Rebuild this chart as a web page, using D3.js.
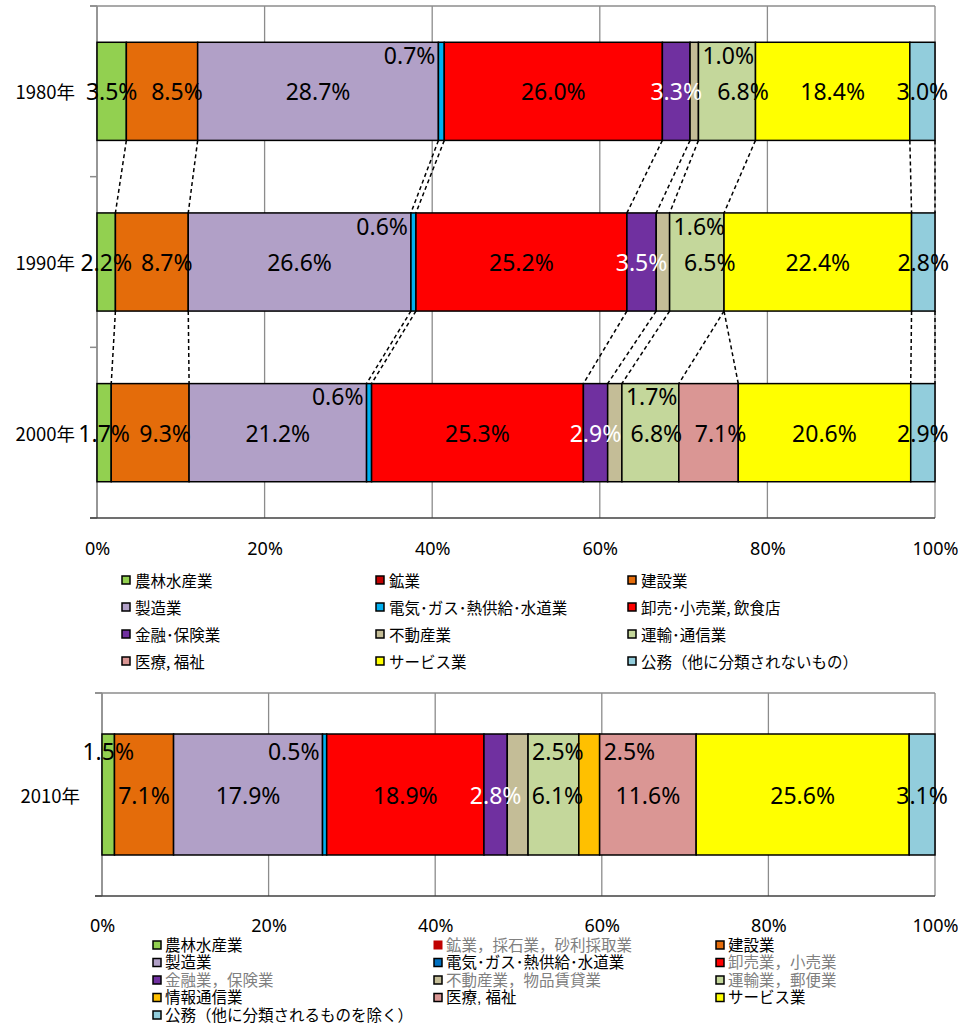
<!DOCTYPE html>
<html><head><meta charset="utf-8">
<script src="https://cdn.jsdelivr.net/npm/d3@7"></script>
<style>body{margin:0;background:#fff} svg{display:block}</style>
</head><body>
<svg id="c" width="958" height="1027"></svg>
<script>
// ---------- data: chart 1 (1980–2000) ----------
const years1 = ["1980年", "1990年", "2000年"];
const series1 = ["農林水産業", "鉱業", "建設業", "製造業", "電気･ガス･熱供給･水道業", "卸売･小売業, 飲食店",
  "金融･保険業", "不動産業", "運輸･通信業", "医療, 福祉", "サービス業", "公務（他に分類されないもの）"];
const values1980 = [3.5, 0, 8.5, 28.7, 0.7, 26.0, 3.3, 1.0, 6.8, 0, 18.4, 3.0];
const values1990 = [2.2, 0, 8.7, 26.6, 0.6, 25.2, 3.5, 1.6, 6.5, 0, 22.4, 2.8];
const values2000 = [1.7, 0, 9.3, 21.2, 0.6, 25.3, 2.9, 1.7, 6.8, 7.1, 20.6, 2.9];
const colors1 = ["#92D050", "#C00000", "#E46C0A", "#B1A0C7", "#00B0F0", "#FF0000",
  "#7030A0", "#C4BD97", "#C4D79B", "#DA9694", "#FFFF00", "#92CDDC"];
const labelMode1 = {"電気･ガス･熱供給･水道業": "topLeft", "不動産業": "topRight"};
const labelShift1 = {"建設業": [15, 15, 15], "運輸･通信業": [16, 13, 6], "医療, 福祉": [0, 0, 12]};
const whiteLabel1 = ["金融･保険業"];

// ---------- data: chart 2 (2010) ----------
const years2 = ["2010年"];
const series2 = ["農林水産業", "鉱業，採石業，砂利採取業", "建設業", "製造業", "電気･ガス･熱供給･水道業", "卸売業，小売業",
  "金融業，保険業", "不動産業，物品賃貸業", "運輸業，郵便業", "情報通信業", "医療, 福祉", "サービス業", "公務（他に分類されるものを除く）"];
const values2010 = [1.5, 0, 7.1, 17.9, 0.5, 18.9, 2.8, 2.5, 6.1, 2.5, 11.6, 25.6, 3.1];
const colors2 = ["#92D050", "#C00000", "#E46C0A", "#B1A0C7", "#00B0F0", "#FF0000",
  "#7030A0", "#C4BD97", "#C4D79B", "#FFC000", "#DA9694", "#FFFF00", "#92CDDC"];
const legendColors2 = ["#92D050", "#C00000", "#E46C0A", "#B1A0C7", "#0070C0", "#FF0000",
  "#7030A0", "#C4BD97", "#C4D79B", "#FFC000", "#DA9694", "#FFFF00", "#92CDDC"];
const legendGray2 = ["鉱業，採石業，砂利採取業", "卸売業，小売業", "金融業，保険業", "不動産業，物品賃貸業", "運輸業，郵便業"];
const labelMode2 = {"農林水産業": "topCenter", "電気･ガス･熱供給･水道業": "topLeft", "不動産業，物品賃貸業": "topRight", "情報通信業": "topRight"};
const labelShift2 = {"運輸業，郵便業": [4]};
const whiteLabel2 = ["金融業，保険業"];

const tickValues = [0, 0.2, 0.4, 0.6, 0.8, 1];

const svg = d3.select("#c");
const NUM_FONT = "'Noto Sans','Noto Sans CJK JP',sans-serif";
const JP_FONT = "'Noto Sans CJK JP','Noto Sans',sans-serif";
const LEG_FONT = "'Liberation Sans','Noto Sans CJK JP',sans-serif";
const fmt = d => d3.format(".1f")(d) + "%";

function drawChart(cfg) {
  const {years, series, rows, colors, left, right, top, bottom, pad, labelMode, labelShift, white, catX, tickLabelY, topFrac} = cfg;
  const g = svg.append("g");
  const data = years.map((yr, i) => { const o = {year: yr}; series.forEach((s, j) => o[s] = rows[i][j]); return o; });
  const stacked = d3.stack().keys(series).offset(d3.stackOffsetExpand)(data);
  const x = d3.scaleLinear().domain([0, 1]).range([left, right]);
  const y = d3.scaleBand().domain(years).range([top, bottom]).paddingInner(pad).paddingOuter(pad / 2);
  const bw = y.bandwidth();

  // gridlines
  g.selectAll("line.grid").data(tickValues).join("line")
    .attr("x1", d => x(d)).attr("x2", d => x(d)).attr("y1", top).attr("y2", bottom)
    .attr("stroke", "#8c8c8c").attr("stroke-width", 1.3);
  // top border
  g.append("line").attr("x1", left - 7).attr("x2", right).attr("y1", top).attr("y2", top)
    .attr("stroke", "#8c8c8c").attr("stroke-width", 1.3);
  // left axis + category ticks
  g.append("line").attr("x1", left).attr("x2", left).attr("y1", top).attr("y2", bottom)
    .attr("stroke", "#8c8c8c").attr("stroke-width", 1.5);
  const bounds = d3.range(years.length + 1).map(i => top + i * (bottom - top) / years.length);
  g.selectAll("line.ytick").data(bounds).join("line")
    .attr("x1", left - 7).attr("x2", left).attr("y1", d => d).attr("y2", d => d)
    .attr("stroke", "#8c8c8c").attr("stroke-width", 1.5);
  // bottom axis
  g.append("line").attr("x1", left - 7).attr("x2", right).attr("y1", bottom).attr("y2", bottom)
    .attr("stroke", "#404040").attr("stroke-width", 1.5);

  // tick labels
  const ax = d3.axisBottom(x).tickValues(tickValues).tickFormat(d3.format(".0%")).tickSize(0).tickPadding(0);
  const axg = g.append("g").attr("transform", `translate(0,${tickLabelY})`).call(ax);
  axg.select(".domain").remove();
  axg.selectAll("text").attr("font-family", NUM_FONT).attr("font-size", 18).attr("fill", "#000")
    .attr("dy", null).attr("dominant-baseline", "central");

  // category labels
  g.selectAll("text.cat").data(years).join("text")
    .attr("x", catX).attr("y", d => y(d) + bw / 2).attr("text-anchor", "end")
    .attr("dominant-baseline", "central").attr("font-family", JP_FONT).attr("font-size", 18.5).text(d => d);

  // connectors
  for (let i = 0; i < years.length - 1; i++) {
    series.forEach((s, j) => {
      if (rows[i][j] > 0 || rows[i + 1][j] > 0) {
        g.append("line")
          .attr("x1", x(stacked[j][i][1])).attr("y1", y(years[i]) + bw)
          .attr("x2", x(stacked[j][i + 1][1])).attr("y2", y(years[i + 1]))
          .attr("stroke", "#000").attr("stroke-width", 1.5).attr("stroke-dasharray", "4,3");
      }
    });
  }

  // bars
  stacked.forEach((layer, j) => {
    g.append("g").selectAll("rect").data(layer.filter((d, i) => rows[i][j] > 0)).join("rect")
      .attr("x", d => x(d[0])).attr("width", d => x(d[1]) - x(d[0]))
      .attr("y", d => y(d.data.year)).attr("height", bw)
      .attr("fill", colors[j]).attr("stroke", "#000").attr("stroke-width", 1.5);
  });

  // labels
  stacked.forEach((layer, j) => {
    const s = series[j];
    const mode = labelMode[s] || "center";
    layer.forEach((d, i) => {
      const v = rows[i][j];
      if (!(v > 0)) return;
      const a = x(d[0]), b = x(d[1]), yt = y(d.data.year);
      let tx = (a + b) / 2, ty = yt + bw / 2, anchor = "middle";
      if (mode !== "center") ty = yt + bw * topFrac;
      if (mode === "topLeft") { tx = a - 3; anchor = "end"; }
      if (mode === "topRight") { tx = b + 4; anchor = "start"; }
      if (labelShift[s]) tx += labelShift[s][i] || 0;
      g.append("text").attr("x", tx).attr("y", ty).attr("text-anchor", anchor)
        .attr("dominant-baseline", "central").attr("font-family", NUM_FONT).attr("font-size", 23)
        .attr("fill", white.includes(s) ? "#fff" : "#000").text(fmt(v));
    });
  });
}

function drawLegend(cfg) {
  const {series, colors, colX, textOff, rowY, rowStep, fontSize, gray, noBorder, font} = cfg;
  const g = svg.append("g");
  series.forEach((s, i) => {
    const c = i % 3, r = Math.floor(i / 3);
    const cx = colX[c], cy = rowY + r * rowStep;
    if (noBorder.includes(s)) {
      g.append("rect").attr("x", cx + 0.5).attr("y", cy - 4.5).attr("width", 9).attr("height", 9).attr("fill", colors[i]);
    } else {
      g.append("rect").attr("x", cx + 1).attr("y", cy - 4).attr("width", 8).attr("height", 8)
        .attr("fill", colors[i]).attr("stroke", "#000").attr("stroke-width", 1.5);
    }
    g.append("text").attr("x", cx + textOff).attr("y", cy).attr("dominant-baseline", "central")
      .attr("font-family", font).attr("font-size", fontSize)
      .attr("fill", gray.includes(s) ? "#808080" : "#000").text(s);
  });
}

drawChart({
  years: years1, series: series1, rows: [values1980, values1990, values2000], colors: colors1,
  left: 97, right: 935, top: 6, bottom: 518, pad: 0.425, labelMode: labelMode1, labelShift: labelShift1,
  white: whiteLabel1, catX: 75, tickLabelY: 548, topFrac: 0.13
});
drawLegend({
  series: series1, colors: colors1, colX: [121, 375, 627], textOff: 14, rowY: 580, rowStep: 27,
  fontSize: 15.5, gray: [], noBorder: [], font: JP_FONT
});
drawChart({
  years: years2, series: series2, rows: [values2010], colors: colors2,
  left: 102, right: 935, top: 693, bottom: 896, pad: 0.404, labelMode: labelMode2, labelShift: labelShift2,
  white: whiteLabel2, catX: 80, tickLabelY: 925, topFrac: 0.14
});
drawLegend({
  series: series2, colors: legendColors2, colX: [152, 433, 715], textOff: 13, rowY: 945, rowStep: 17.5,
  fontSize: 15.5, gray: legendGray2, noBorder: ["鉱業，採石業，砂利採取業"], font: LEG_FONT
});
</script>
</body></html>
